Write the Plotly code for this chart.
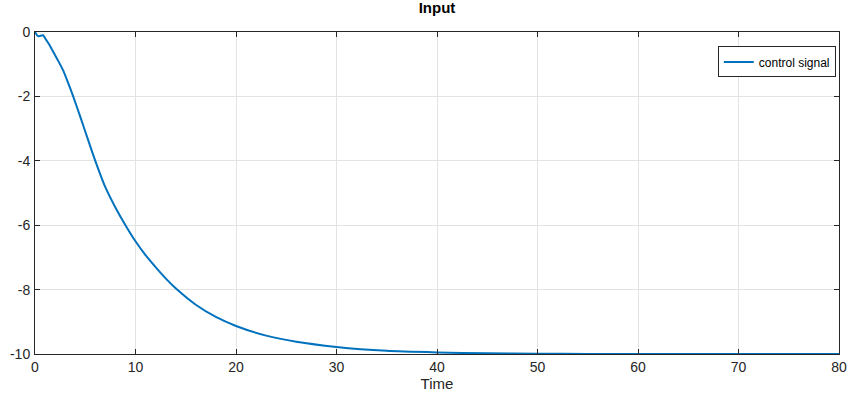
import plotly.graph_objects as go

time = [0, 0.3, 0.8, 1.1, 1.4, 1.7, 2.0, 2.35, 2.8, 3.2, 3.8, 4.5, 5.0, 5.5, 6.0, 7.0, 8.0,
        9.0, 10, 11, 12, 13, 14, 16, 18, 20, 23, 26, 30, 35, 40, 45, 50, 55, 60, 70, 80]
control_signal = [0, -0.13, -0.1, -0.24, -0.38, -0.55, -0.72, -0.92, -1.19, -1.5, -2.0, -2.63,
                  -3.09, -3.55, -4.0, -4.82, -5.45, -6.0, -6.5, -6.93, -7.3, -7.65, -7.96,
                  -8.47, -8.85, -9.13, -9.43, -9.62, -9.78, -9.9, -9.95, -9.98, -9.99, -10.0,
                  -10.0, -10.0, -10.0]
x_ticks = [0, 10, 20, 30, 40, 50, 60, 70, 80]
y_ticks = [0, -2, -4, -6, -8, -10]
y_tick_text = ["0", "-2", "-4", "-6", "-8", "-10"]

fig = go.Figure()
fig.add_trace(go.Scatter(x=time, y=control_signal, mode="lines", name="control signal",
                         line=dict(color="#0072BD", width=2, shape="spline", smoothing=0.5)))

axis_common = dict(showline=True, linecolor="#262626", linewidth=1, mirror="ticks",
                   ticks="inside", ticklen=5, tickcolor="#262626", automargin=False,
                   showgrid=True, gridcolor="#e3e3e3", gridwidth=1, zeroline=False,
                   tickfont=dict(family="Liberation Sans, Arial", size=14, color="#262626"))

fig.update_layout(
    width=853, height=411,
    margin=dict(l=35, r=14, t=32, b=57),
    paper_bgcolor="white", plot_bgcolor="white",
    title=dict(text="<b>Input</b>", x=(35 + 839) / 2 / 853, xanchor="center", y=0.993, yanchor="top",
               font=dict(family="Liberation Sans, Arial", size=15, color="black")),
    xaxis=dict(range=[0, 80], tickvals=x_ticks, ticktext=[str(v) for v in x_ticks],
               title=dict(text="Time", standoff=4,
                          font=dict(family="Liberation Sans, Arial", size=15, color="#262626")),
               **axis_common),
    yaxis=dict(range=[-10, 0], tickvals=y_ticks, ticktext=y_tick_text, ticklabelstandoff=1,
               **axis_common),
    legend=dict(x=0.996, y=0.955, xanchor="right", yanchor="top", bgcolor="white",
                bordercolor="#262626", borderwidth=1,
                font=dict(family="Liberation Sans, Arial", size=12, color="black"),
                itemwidth=30, tracegroupgap=0),
    showlegend=True,
)

fig.write_html("out.html")
